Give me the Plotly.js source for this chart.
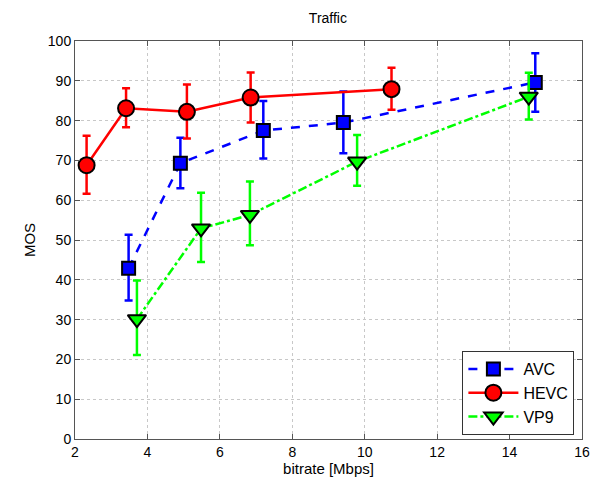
<!DOCTYPE html>
<html><head><meta charset="utf-8">
<script src="https://cdn.plot.ly/plotly-3.0.1.min.js"></script>
<style>html,body{margin:0;padding:0;background:#fff}#chart{width:593px;height:487px}</style>
</head><body><div id="chart"></div>
<script>
const avcX = [3.48, 4.91, 7.20, 9.41, 14.71];
const avcY = [42.9, 69.3, 77.5, 79.5, 89.6];
const avcErrUp = [8.4, 6.4, 7.4, 7.8, 7.3];
const avcErrDown = [8.1, 6.3, 7.0, 7.7, 7.4];

const hevcX = [2.32, 3.41, 5.09, 6.85, 10.74];
const hevcY = [68.8, 83.1, 82.2, 85.8, 87.9];
const hevcErrUp = [7.4, 5.0, 6.9, 6.3, 5.4];
const hevcErrDown = [7.2, 4.8, 6.7, 6.3, 5.2];

const vp9X = [3.71, 5.48, 6.83, 9.79, 14.53];
const vp9Y = [30.1, 52.9, 56.3, 69.7, 86.0];
const vp9ErrUp = [9.7, 9.0, 8.4, 6.7, 6.0];
const vp9ErrDown = [9.0, 8.4, 7.6, 6.1, 5.7];

const xTicks = [2, 4, 6, 8, 10, 12, 14, 16];
const yTicks = [0, 10, 20, 30, 40, 50, 60, 70, 80, 90, 100];

function tr(name, x, y, up, down, color, dash, symbol, size) {
  return {
    type: 'scatter', mode: 'lines+markers', name: name, x: x, y: y,
    line: {color: color, width: 2.5, dash: dash},
    marker: {symbol: symbol, size: size, color: color, line: {color: '#000', width: 2}},
    error_y: {type: 'data', symmetric: false, array: up, arrayminus: down,
              color: color, thickness: 2.5, width: 4}
  };
}

const data = [
  tr('AVC', avcX, avcY, avcErrUp, avcErrDown, '#0000ff', 'dash', 'square', 13),
  tr('HEVC', hevcX, hevcY, hevcErrUp, hevcErrDown, '#ff0000', 'solid', 'circle', 16),
  tr('VP9', vp9X, vp9Y, vp9ErrUp, vp9ErrDown, '#00ff00', 'dashdot', 'triangle-down', 16)
];

const axisCommon = {
  showline: true, linecolor: '#555', linewidth: 1, mirror: 'ticks',
  ticks: 'inside', ticklen: 5, tickcolor: '#555',
  showgrid: true, gridcolor: '#c8c8c8', griddash: 'dot', gridwidth: 1,
  zeroline: false, tickfont: {size: 14, color: '#000'}
};

const layout = {
  width: 593, height: 487,
  margin: {l: 75, r: 11, t: 41, b: 48},
  paper_bgcolor: '#fff', plot_bgcolor: '#fff',
  font: {family: 'Liberation Sans, Arial, sans-serif', color: '#000'},
  title: {text: 'Traffic', x: 0.553, xanchor: 'center', y: 0.963, yanchor: 'middle', font: {size: 14}},
  xaxis: Object.assign({}, axisCommon, {range: [2, 16], tickvals: xTicks, ticktext: xTicks.map(String),
    title: {text: 'bitrate [Mbps]', font: {size: 15}, standoff: 4}}),
  yaxis: Object.assign({}, axisCommon, {range: [0, 100], tickvals: yTicks, ticktext: yTicks.map(String),
    title: {text: 'MOS', font: {size: 15}, standoff: 8}}),
  showlegend: true,
  legend: {x: 0.985, y: 0.01, xanchor: 'right', yanchor: 'bottom', bordercolor: '#333', borderwidth: 1,
    bgcolor: '#fff', font: {size: 16}, tracegroupgap: 0, itemwidth: 50}
};

Plotly.newPlot('chart', data, layout, {displayModeBar: false, staticPlot: true});
</script></body></html>
